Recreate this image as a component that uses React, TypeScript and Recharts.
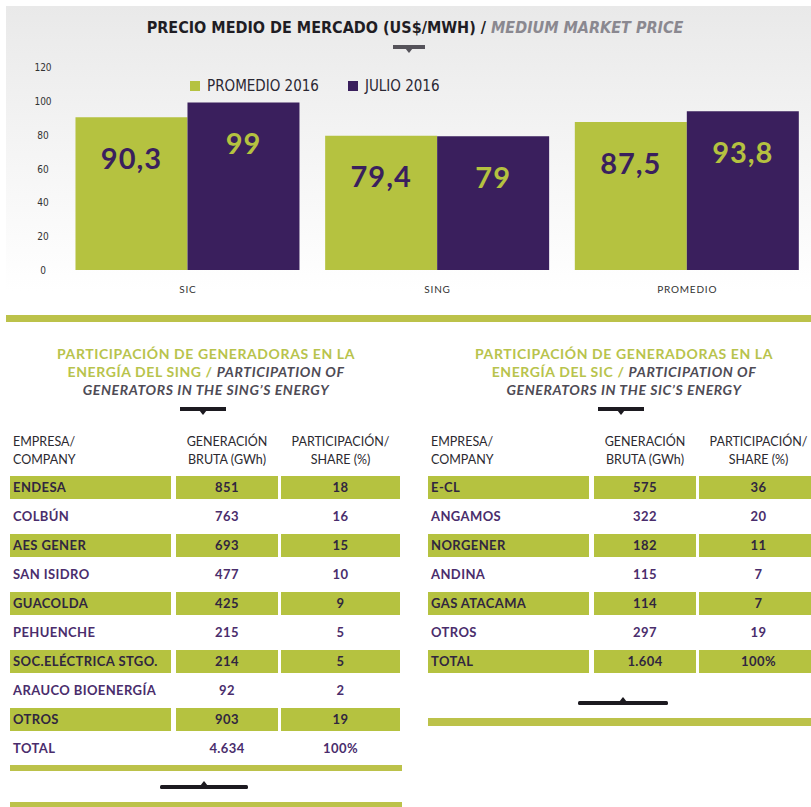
import React from "react";
import { BarChart, Bar, XAxis, YAxis, Legend, LabelList } from "recharts";

const GREEN = "#b5c240";
const PURPLE = "#3a1f5d";
const DARK = "#2a2733";
const ROW_PURPLE = "#4a2d6c";
const ROW_DARK = "#30263f";
const NARROW = '"Liberation Sans Narrow", "DejaVu Sans Condensed", Roboto, sans-serif';
const GEO = 'Lato, "Noto Sans", sans-serif';

// bar chart data
const categories = ["SIC", "SING", "PROMEDIO"];
const promedio2016 = [90.3, 79.4, 87.5];
const julio2016 = [99, 79, 93.8];
const seriesNames = ["PROMEDIO 2016", "JULIO 2016"];
const yTicks = [0, 20, 40, 60, 80, 100, 120];

// SING table
const singCompanies = [
  "ENDESA",
  "COLBÚN",
  "AES GENER",
  "SAN ISIDRO",
  "GUACOLDA",
  "PEHUENCHE",
  "SOC.ELÉCTRICA STGO.",
  "ARAUCO BIOENERGÍA",
  "OTROS",
  "TOTAL",
];
const singGeneration = ["851", "763", "693", "477", "425", "215", "214", "92", "903", "4.634"];
const singShare = ["18", "16", "15", "10", "9", "5", "5", "2", "19", "100%"];

// SIC table
const sicCompanies = ["E-CL", "ANGAMOS", "NORGENER", "ANDINA", "GAS ATACAMA", "OTROS", "TOTAL"];
const sicGeneration = ["575", "322", "182", "115", "114", "297", "1.604"];
const sicShare = ["36", "20", "11", "7", "7", "19", "100%"];

const chartData = categories.map((name, i) => ({
  name,
  promedio: promedio2016[i],
  julio: julio2016[i],
}));

const fmt = (v: any) => String(v).replace(".", ",");

const YTick = (props: any) => {
  const { x, y, payload } = props;
  return (
    <text x={x} y={y} dy={4} textAnchor="middle" fontSize={10} fill="#333" fontFamily={NARROW}>
      {payload.value}
    </text>
  );
};

const XTick = (props: any) => {
  const { x, y, payload } = props;
  return (
    <text x={x} y={y} dy={8} textAnchor="middle" fontSize={10} fill="#333" fontFamily={GEO} letterSpacing={0.8}>
      {payload.value}
    </text>
  );
};

const renderLegend = (props: any) => {
  const items = [...(props.payload || [])].sort(
    (a: any, b: any) => seriesNames.indexOf(a.value) - seriesNames.indexOf(b.value)
  );
  return (
    <div style={{ display: "flex", alignItems: "center", fontFamily: NARROW, fontSize: 15, color: DARK }}>
      {items.map((p: any, i: number) => (
        <div key={i} style={{ display: "flex", alignItems: "center", marginRight: 29 }}>
          <span style={{ width: 10, height: 10, background: p.color, marginRight: 7, display: "inline-block" }} />
          <span>{p.value}</span>
        </div>
      ))}
    </div>
  );
};

function Marker({ left, top, width, up, color }: any) {
  const c = width / 2;
  return (
    <svg style={{ position: "absolute", left, top }} width={width} height={10}>
      {up ? (
        <>
          <rect x={0} y={5} width={width} height={4} rx={1.5} fill={color} />
          <polygon points={`${c - 4},6 ${c + 4},6 ${c},1`} fill={color} />
        </>
      ) : (
        <>
          <rect x={0} y={1} width={width} height={4} fill={color} />
          <polygon points={`${c - 4},4 ${c + 4},4 ${c},9`} fill={color} />
        </>
      )}
    </svg>
  );
}

const cols = [
  { x: 0, w: 161, align: "left" as const },
  { x: 166, w: 102, align: "center" as const },
  { x: 271, w: 119, align: "center" as const },
];

function GenTable({ left, system, companies, generation, share }: any) {
  const rows = companies.map((c: string, i: number) => [c, generation[i], share[i]]);
  const tableW = 392;
  return (
    <div style={{ position: "absolute", left, top: 0 }}>
      <div
        style={{
          position: "absolute",
          top: 345,
          left: -20,
          width: tableW + 40,
          textAlign: "center",
          fontFamily: GEO,
          fontWeight: 700,
          fontSize: 14,
          lineHeight: "18px",
          letterSpacing: 0.6,
          color: "#b8c34c",
          whiteSpace: "nowrap",
        }}
      >
        <div>PARTICIPACIÓN DE GENERADORAS EN LA</div>
        <div>
          ENERGÍA DEL {system} / <i style={{ color: "#4e4b55" }}>PARTICIPATION OF</i>
        </div>
        <div>
          <i style={{ color: "#4e4b55" }}>GENERATORS IN THE {system}’S ENERGY</i>
        </div>
      </div>
      <Marker left={tableW / 2 - 26} top={406} width={46} color="#1c1a20" />
      {[
        ["EMPRESA/", "COMPANY"],
        ["GENERACIÓN", "BRUTA (GWh)"],
        ["PARTICIPACIÓN/", "SHARE (%)"],
      ].map((h, j) => (
        <div
          key={j}
          style={{
            position: "absolute",
            top: 433,
            left: cols[j].x + (j === 0 ? 3 : 0),
            width: cols[j].w,
            textAlign: cols[j].align,
            fontFamily: GEO,
            fontSize: 12.5,
            lineHeight: "18px",
            color: "#2b2930",
            whiteSpace: "nowrap",
          }}
        >
          <div>{h[0]}</div>
          <div>{h[1]}</div>
        </div>
      ))}
      {rows.map((r: string[], i: number) =>
        r.map((cell, j) => (
          <div
            key={i + "-" + j}
            style={{
              position: "absolute",
              top: 476 + i * 29,
              left: cols[j].x,
              width: cols[j].w,
              height: 23,
              lineHeight: "23px",
              background: i % 2 === 0 ? GREEN : "transparent",
              textAlign: cols[j].align,
              paddingLeft: j === 0 ? 3 : 0,
              boxSizing: "border-box",
              fontFamily: GEO,
              fontWeight: 700,
              fontSize: 13,
              letterSpacing: 0.4,
              color: i % 2 === 0 ? ROW_DARK : ROW_PURPLE,
              whiteSpace: "nowrap",
            }}
          >
            {cell}
          </div>
        ))
      )}
    </div>
  );
}

export default function App() {
  return (
    <div
      style={{
        position: "absolute",
        left: 0,
        top: 0,
        width: 811,
        height: 807,
        overflow: "hidden",
        background: "#fff",
      }}
    >
      <div
        style={{
          position: "absolute",
          left: 6,
          top: 6,
          width: 805,
          height: 300,
          background: "linear-gradient(#e9e9e9 0%, #f4f4f4 45%, #ffffff 95%)",
        }}
      />
      <div
        style={{
          position: "absolute",
          top: 18,
          left: 0,
          width: 830,
          textAlign: "center",
          fontFamily: NARROW,
          fontWeight: 700,
          fontSize: 16,
          color: "#1f1d24",
          whiteSpace: "nowrap",
        }}
      >
        PRECIO MEDIO DE MERCADO (US$/MWH) /{" "}
        <i style={{ color: "#8a8890" }}>MEDIUM MARKET PRICE</i>
      </div>
      <Marker left={393} top={44} width={32} color="#55535a" />

      <div style={{ position: "absolute", left: 0, top: 0 }}>
        <BarChart
          width={811}
          height={300}
          data={chartData}
          margin={{ top: 67, right: -1, bottom: 0, left: 0 }}
          barGap={0}
          barCategoryGap="5%"
        >
          <XAxis
            dataKey="name"
            axisLine={false}
            tickLine={false}
            tickMargin={9}
            height={30}
            tick={<XTick />}
          />
          <YAxis
            width={63}
            domain={[0, 120]}
            ticks={yTicks}
            axisLine={false}
            tickLine={false}
            tickMargin={14}
            tick={<YTick />}
          />
          <Legend
            layout="horizontal"
            verticalAlign="middle"
            align="center"
            wrapperStyle={{ top: 77, left: 190, width: "auto" }}
            content={renderLegend}
          />
          <Bar dataKey="promedio" name={seriesNames[0]} fill={GREEN} isAnimationActive={false}>
            <LabelList
              dataKey="promedio"
              position="insideTop"
              offset={31}
              formatter={fmt}
              fill={PURPLE}
              fontSize={29}
              fontWeight={700}
              letterSpacing={1}
              fontFamily={GEO}
            />
          </Bar>
          <Bar dataKey="julio" name={seriesNames[1]} fill={PURPLE} isAnimationActive={false}>
            <LabelList
              dataKey="julio"
              position="insideTop"
              offset={31}
              formatter={fmt}
              fill={GREEN}
              fontSize={29}
              fontWeight={700}
              letterSpacing={1}
              fontFamily={GEO}
            />
          </Bar>
        </BarChart>
      </div>

      <div style={{ position: "absolute", left: 6, top: 315, width: 805, height: 7, background: "#bcc24a" }} />

      <GenTable left={10} system="SING" companies={singCompanies} generation={singGeneration} share={singShare} />
      <GenTable left={428} system="SIC" companies={sicCompanies} generation={sicGeneration} share={sicShare} />

      <div style={{ position: "absolute", left: 10, top: 765, width: 392, height: 6, background: "#bcc24a" }} />
      <Marker left={160} top={780} width={88} up color="#1c1a20" />
      <div style={{ position: "absolute", left: 10, top: 802, width: 392, height: 8, background: "#bcc24a" }} />

      <Marker left={578} top={696} width={90} up color="#1c1a20" />
      <div style={{ position: "absolute", left: 428, top: 718, width: 383, height: 8, background: "#bcc24a" }} />
    </div>
  );
}
